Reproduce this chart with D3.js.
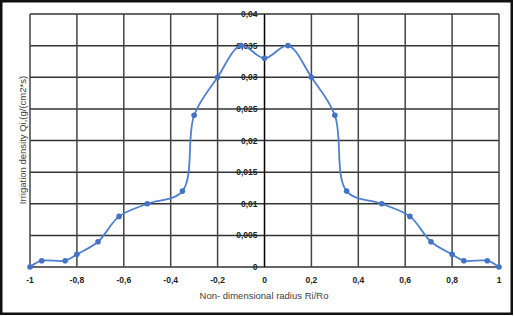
<!DOCTYPE html>
<html>
<head>
<meta charset="utf-8">
<script src="https://cdn.jsdelivr.net/npm/d3@7"></script>
<style>
  body { margin: 0; background: #fff; }
  text { font-family: 'Liberation Sans', Arial, sans-serif; }
</style>
</head>
<body>
<svg id="container" width="514" height="316"></svg>
<script>
const svg = d3.select('#container')

// radius Ri/Ro and irrigation density
const radius = [-1, -0.95, -0.85, -0.8, -0.71, -0.62, -0.5, -0.35, -0.3, -0.2, -0.1, 0,
  0.1, 0.2, 0.3, 0.35, 0.5, 0.62, 0.71, 0.8, 0.85, 0.95, 1]
const density = [0, 0.001, 0.001, 0.002, 0.004, 0.008, 0.01, 0.012, 0.024, 0.03, 0.035, 0.033,
  0.035, 0.03, 0.024, 0.012, 0.01, 0.008, 0.004, 0.002, 0.001, 0.001, 0]
const xTicks = [-1, -0.8, -0.6, -0.4, -0.2, 0, 0.2, 0.4, 0.6, 0.8, 1]
const yTicks = [0, 0.005, 0.01, 0.015, 0.02, 0.025, 0.03, 0.035, 0.04]

const xScale = d3.scaleLinear().domain([-1, 1]).range([30, 499])
const yScale = d3.scaleLinear().domain([0, 0.04]).range([267, 14])
const comma = (v) => String(+v.toFixed(3)).replace('.', ',')

// outer frame
svg.append('rect')
  .attr('x', 1.25).attr('y', 1.25).attr('width', 510.5).attr('height', 312.5)
  .attr('fill', '#fff').attr('stroke', '#111').attr('stroke-width', 2.5)

// grid
svg.append('g')
  .selectAll('line')
  .data(yTicks)
  .enter()
  .append('line')
  .attr('x1', xScale(-1)).attr('x2', xScale(1))
  .attr('y1', (d) => yScale(d)).attr('y2', (d) => yScale(d))
  .attr('stroke', '#333').attr('stroke-width', 1.5)

svg.append('g')
  .selectAll('line')
  .data(xTicks)
  .enter()
  .append('line')
  .attr('y1', yScale(0)).attr('y2', yScale(0.04))
  .attr('x1', (d) => xScale(d)).attr('x2', (d) => xScale(d))
  .attr('stroke', (d) => (d === 0 ? '#000' : '#444')).attr('stroke-width', 1.5)

// y tick labels sit beside the centre axis
svg.append('g')
  .selectAll('text')
  .data(yTicks)
  .enter()
  .append('text')
  .attr('x', xScale(0) - 7)
  .attr('y', (d) => yScale(d) + 3)
  .attr('text-anchor', 'end')
  .attr('font-size', 8.5)
  .attr('font-weight', 'bold')
  .attr('fill', '#222')
  .text(comma)

svg.append('g')
  .selectAll('text')
  .data(xTicks)
  .enter()
  .append('text')
  .attr('x', (d) => xScale(d))
  .attr('y', 283)
  .attr('text-anchor', 'middle')
  .attr('font-size', 8.5)
  .attr('font-weight', 'bold')
  .attr('fill', '#222')
  .text(comma)

// series
const points = radius.map((r, i) => ({ r, v: density[i] }))
const line = d3.line()
  .x((d) => xScale(d.r))
  .y((d) => yScale(d.v))
  .curve(d3.curveCatmullRom.alpha(0.5))

svg.append('path')
  .datum(points)
  .attr('d', line)
  .attr('fill', 'none')
  .attr('stroke', '#4f7fcf')
  .attr('stroke-width', 1.8)

svg.append('g')
  .selectAll('circle')
  .data(points)
  .enter()
  .append('circle')
  .attr('cx', (d) => xScale(d.r))
  .attr('cy', (d) => yScale(d.v))
  .attr('r', 2.8)
  .attr('fill', '#4472c4')

// axis titles
svg.append('text')
  .attr('x', 264)
  .attr('y', 299)
  .attr('text-anchor', 'middle')
  .attr('font-size', 9.5)
  .attr('fill', '#404040')
  .text('Non- dimensional radius Ri/Ro')

svg.append('text')
  .attr('transform', 'translate(26,140) rotate(-90)')
  .attr('text-anchor', 'middle')
  .attr('font-size', 9.5)
  .attr('fill', '#404040')
  .text('Irrigation density Qi,(g/(cm2*s)')
</script>
</body>
</html>
